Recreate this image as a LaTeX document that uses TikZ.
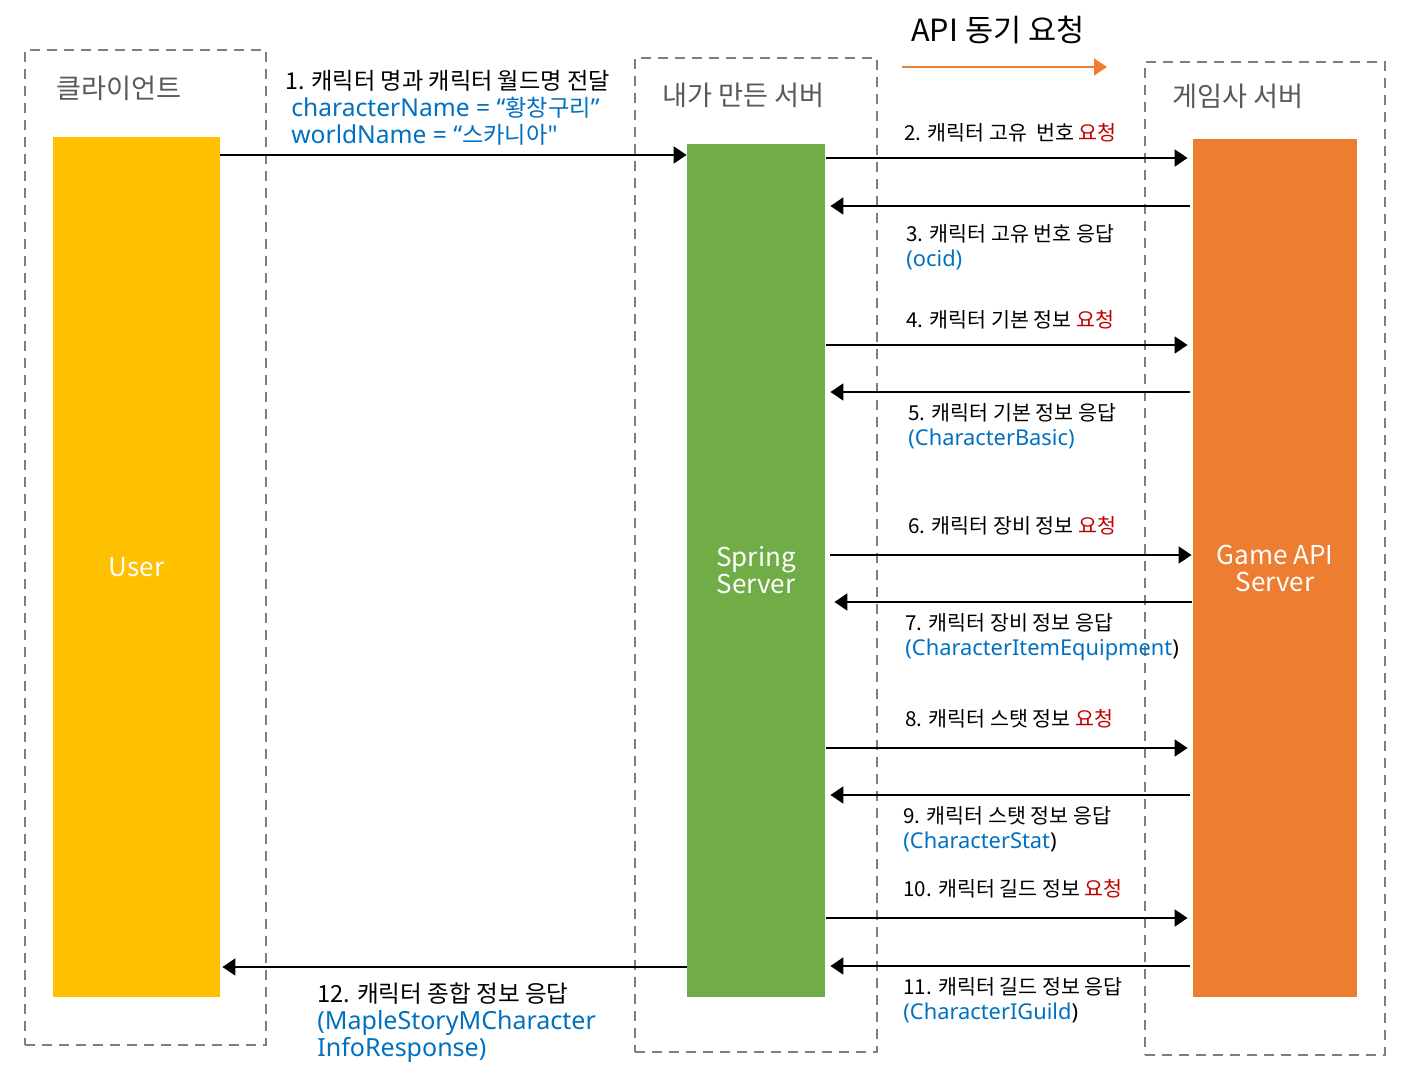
\documentclass[tikz,border=0pt]{standalone}
\usepackage{fontspec}
\setmainfont{Noto Sans CJK KR}
\newfontfamily\lat[Scale=1.06]{Noto Sans}
\usetikzlibrary{arrows.meta}
\definecolor{cyellow}{HTML}{FFC000}
\definecolor{cgreen}{HTML}{70AD47}
\definecolor{corange}{HTML}{ED7D31}
\definecolor{cblue}{HTML}{0070C0}
\definecolor{cred}{HTML}{C00000}
\definecolor{cgray}{HTML}{7F7F7F}
\definecolor{ctitle}{HTML}{595959}
\newcommand{\bl}[1]{\textcolor{cblue}{\lat #1}}
\begin{document}
\begin{tikzpicture}[x=0.5pt,y=-0.5pt,
  zone/.style={draw=cgray,line width=1.2pt,dash pattern=on 5pt off 3.5pt,inner sep=0},
  bar/.style={draw=none,inner sep=0,text=white,align=center,font=\fontsize{13}{13.5}\selectfont},
  msg/.style={-{Triangle[length=6.5pt,width=8.5pt]},line width=0.9pt},
  lbl/.style={anchor=west,inner sep=0,font=\fontsize{10.3}{12.5}\selectfont,align=left},
  ztitle/.style={anchor=west,inner sep=0,text=ctitle,font=\fontsize{13.6}{15}\selectfont}
]
\useasboundingbox (0,0) rectangle (1420,1090);
% zones
\node[zone,minimum width=120.5pt,minimum height=497.5pt] (zclient) at (145.5,547.5) {};
\node[zone,minimum width=121pt,minimum height=497pt] (zmine) at (756,555) {};
\node[zone,minimum width=120pt,minimum height=496.5pt] (zgame) at (1265,558.5) {};
\node[ztitle] (tclient) at (56,88) {클라이언트};
\node[ztitle] (tmine) at (662,95) {내가 만든 서버};
\node[ztitle] (tgame) at (1172,96) {게임사 서버};
% bars
\node[bar,fill=cyellow,minimum width=83.5pt,minimum height=430pt] (user) at (136.5,567) {User};
\node[bar,fill=cgreen,minimum width=69pt,minimum height=426.5pt] (spring) at (756,570.5) {Spring\\Server};
\node[bar,fill=corange,minimum width=82pt,minimum height=429pt] (game) at (1275,568) {Game API\\Server};
% title
\node[inner sep=0,font=\fontsize{15.3}{17}\selectfont] (title) at (998,30) {API 동기 요청};
\coordinate (o1) at (902,67);
\coordinate (o2) at (1107,67);
\draw[corange,line width=0.7pt,-{Triangle[length=6.5pt,width=8.5pt]}] (o1) -- (o2);
% levels
\foreach \n/\y in {1/155,2/158,3/206,4/345,5/392,6/555,7/602,8/748,9/795,10/918,11/966,12/967}
  \coordinate (y\n) at (0,\y);
% arrows
\draw[msg] (user.east |- y1) -- (spring.west |- y1);
\draw[msg] ([xshift=0.5pt]spring.east |- y2) -- ([xshift=-2.5pt]game.west |- y2);
\draw[msg] ([xshift=-1.5pt]game.west |- y3) -- ([xshift=2.5pt]spring.east |- y3);
\draw[msg] ([xshift=0.5pt]spring.east |- y4) -- ([xshift=-2.5pt]game.west |- y4);
\draw[msg] ([xshift=-1.5pt]game.west |- y5) -- ([xshift=2.5pt]spring.east |- y5);
\draw[msg] ([xshift=2.5pt]spring.east |- y6) -- ([xshift=-0.5pt]game.west |- y6);
\draw[msg] ([xshift=-0.5pt]game.west |- y7) -- ([xshift=4.5pt]spring.east |- y7);
\draw[msg] ([xshift=0.5pt]spring.east |- y8) -- ([xshift=-2.5pt]game.west |- y8);
\draw[msg] ([xshift=-1.5pt]game.west |- y9) -- ([xshift=2.5pt]spring.east |- y9);
\draw[msg] ([xshift=0.5pt]spring.east |- y10) -- ([xshift=-2.5pt]game.west |- y10);
\draw[msg] ([xshift=-1.5pt]game.west |- y11) -- ([xshift=2.5pt]spring.east |- y11);
\draw[msg] (spring.west |- y12) -- ([xshift=1pt]user.east |- y12);
% labels
\node[lbl,font=\fontsize{11.6}{13.5}\selectfont] (l1) at (285,108) {1. 캐릭터 명과 캐릭터 월드명 전달\\
  \hspace*{3pt}\bl{characterName = “}\textcolor{cblue}{황창구리}\bl{”}\\
  \hspace*{3pt}\bl{worldName = “}\textcolor{cblue}{스카니아}\bl{"}};
\node[lbl] (l2) at (904,133) {2. 캐릭터 고유 \ 번호 \textcolor{cred}{요청}};
\node[lbl] (l3) at (906,247.5) {3. 캐릭터 고유 번호 응답\\\bl{(ocid)}};
\node[lbl] (l4) at (906,320) {4. 캐릭터 기본 정보 \textcolor{cred}{요청}};
\node[lbl] (l5) at (908,426) {5. 캐릭터 기본 정보 응답\\\bl{(CharacterBasic)}};
\node[lbl] (l6) at (908,526) {6. 캐릭터 장비 정보 \textcolor{cred}{요청}};
\node[lbl] (l7) at (905,637.5) {7. 캐릭터 장비 정보 응답\\\bl{(CharacterItemEquipment}{\lat )}};
\node[lbl] (l8) at (905,719) {8. 캐릭터 스탯 정보 \textcolor{cred}{요청}};
\node[lbl] (l9) at (903,829.5) {9. 캐릭터 스탯 정보 응답\\\bl{(CharacterStat}{\lat )}};
\node[lbl] (l10) at (903,889) {10. 캐릭터 길드 정보 \textcolor{cred}{요청}};
\node[lbl] (l11) at (903,1000.5) {11. 캐릭터 길드 정보 응답\\\bl{(CharacterIGuild}{\lat )}};
\node[lbl,font=\fontsize{11.8}{13.5}\selectfont] (l12) at (317,1023) {12. 캐릭터 종합 정보 응답\\
  \bl{(MapleStoryMCharacter}\\\bl{InfoResponse)}};
\end{tikzpicture}
\end{document}
